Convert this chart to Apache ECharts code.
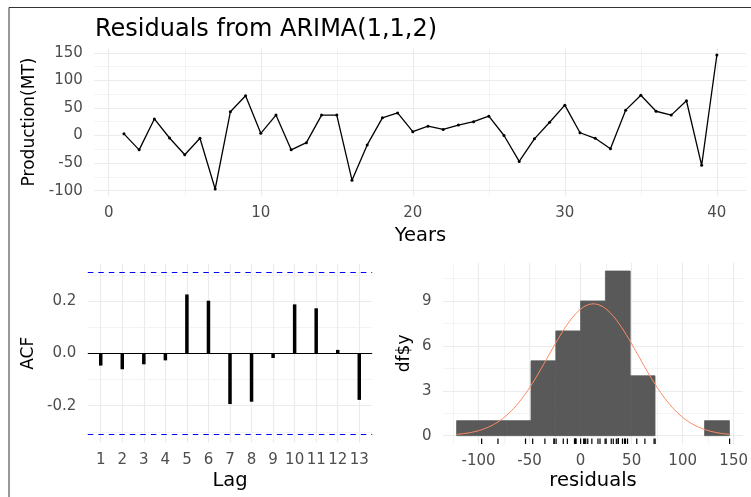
<!DOCTYPE html>
<html><head><meta charset="utf-8">
<script src="https://cdn.jsdelivr.net/npm/echarts@6/dist/echarts.min.js"></script>
<style>html,body{margin:0;padding:0;background:#fff}#c{width:751px;height:497px}</style>
</head><body><div id="c"></div><script>
// ---- data ----
const years = [1,2,3,4,5,6,7,8,9,10,11,12,13,14,15,16,17,18,19,20,21,22,23,24,25,26,27,28,29,30,31,32,33,34,35,36,37,38,39,40];
const residuals = [3,-26,30,-4.5,-35,-5,-97,43,72,4,37,-26,-13,37,37,-81,-17,32,41,7,17,11,19,25,35,0,-47,-6,24,55,5,-5,-24,46,73,44,37,63,-54,146];
const lags = [1,2,3,4,5,6,7,8,9,10,11,12,13];
const acfValues = [-0.047,-0.061,-0.042,-0.027,0.225,0.201,-0.194,-0.185,-0.018,0.187,0.172,0.013,-0.178];
const histBinStart = -121.5;
const histBinWidth = 24.3;
const histCounts = [1,1,1,5,7,9,11,4,0,0,1];
// tick labels / grid breaks
const yearTicks = [0,10,20,30,40];
const yearMinor = [5,15,25,35];
const prodTicks = [-100,-50,0,50,100,150];
const prodMinor = [-75,-25,25,75,125];
const acfTicks = [-0.2,0,0.2];
const acfMinor = [-0.3,-0.1,0.1,0.3];
const resTicks = [-100,-50,0,50,100,150];
const resMinor = [-125,-75,-25,25,75,125];
const countTicks = [0,3,6,9];
const countMinor = [1.5,4.5,7.5,10.5];

// ---- derived ----
const FONT = 'DejaVu Sans';
const TICK = '#4D4D4D';
function ext(lo, hi){ const d=(hi-lo)*0.05; return [lo-d, hi+d]; }
const n = residuals.length;
const x0 = ext(Math.min(...years), Math.max(...years));
const y0 = ext(Math.min(...residuals), Math.max(...residuals));
const x1 = ext(Math.min(...lags), Math.max(...lags));
const ci = 1.96/Math.sqrt(n);
const y1 = ext(Math.min(-ci, ...acfValues), Math.max(ci, ...acfValues));
const binEnd = histBinStart + histBinWidth*histCounts.length;
const x2 = ext(histBinStart, binEnd);
const y2 = ext(0, Math.max(...histCounts));
const mean = residuals.reduce((a,b)=>a+b,0)/n;
const sd = Math.sqrt(residuals.reduce((a,b)=>a+(b-mean)*(b-mean),0)/(n-1));
const curve = [];
for (let i=0;i<120;i++){
  const x = histBinStart + (binEnd-histBinStart)*i/119;
  curve.push([x, n*histBinWidth*Math.exp(-0.5*((x-mean)/sd)**2)/(sd*Math.sqrt(2*Math.PI))]);
}
const bins = histCounts.map((c,i)=>[histBinStart+i*histBinWidth, histBinStart+(i+1)*histBinWidth, c]);

function gl(vals, dim, w){ return vals.map(v=>({[dim]: v, lineStyle:{color:'#EBEBEB', width:w, type:'solid'}})); }
function bgSeries(idx, xMaj, xMin, yMaj, yMin){
  return {type:'line', xAxisIndex:idx, yAxisIndex:idx, data:[], silent:true, z:0,
    markLine:{silent:true, z:0, symbol:['none','none'], label:{show:false}, animation:false, emphasis:{disabled:true},
      data:[...gl(xMin,'xAxis',0.6), ...gl(yMin,'yAxis',0.6), ...gl(xMaj,'xAxis',1.1), ...gl(yMaj,'yAxis',1.1)]}};
}
function axis(idx, range, ticks, name, gap, isY, fmt){
  const a = {type:'value', gridIndex:idx, min:range[0], max:range[1],
    axisLine:{show:false}, axisTick:{show:false}, splitLine:{show:false}, minorSplitLine:{show:false},
    axisLabel:{customValues:ticks, color:TICK, fontSize:15, fontFamily:FONT, margin:isY?11.5:10},
    name:name, nameLocation:'middle', nameGap:gap,
    nameTextStyle:{color:'#000', fontSize:isY?17:19.5, fontFamily:FONT}};
  if (fmt) a.axisLabel.formatter = fmt;
  if (isY) a.nameRotate = 90;
  return a;
}

const chart = echarts.init(document.getElementById('c'));
chart.setOption({
  animation:false,
  textStyle:{fontFamily:FONT},
  title:{text:'Residuals from ARIMA(1,1,2)', left:90, top:13,
    textStyle:{fontFamily:FONT, fontSize:24, fontWeight:'normal', color:'#000'}},
  grid:[
    {left:94.3, top:48.3, width:652.2, height:147.4},
    {left:87.8, top:264.1, width:284.4, height:178.4},
    {left:443, top:262.8, width:302, height:181.1}
  ],
  xAxis:[
    axis(0, x0, yearTicks, 'Years', 30, false),
    axis(1, x1, lags, 'Lag', 28.7, false),
    axis(2, x2, resTicks, 'residuals', 27.4, false)
  ],
  yAxis:[
    axis(0, y0, prodTicks, 'Production(MT)', 55, true),
    axis(1, y1, acfTicks, 'ACF', 50.3, true, v=>v.toFixed(1)),
    axis(2, y2, countTicks, 'df$y', 29.5, true)
  ],
  graphic:[
    {type:'line', shape:{x1:9, y1:7.5, x2:751, y2:7.5}, style:{stroke:'#333', lineWidth:1}, silent:true},
    {type:'line', shape:{x1:9, y1:7.5, x2:9, y2:497}, style:{stroke:'#333', lineWidth:1}, silent:true}
  ],
  series:[
    bgSeries(0, yearTicks, yearMinor, prodTicks, prodMinor),
    bgSeries(1, lags, [], acfTicks, acfMinor),
    bgSeries(2, resTicks, resMinor, countTicks, countMinor),
    {type:'line', xAxisIndex:0, yAxisIndex:0, z:3, data:years.map((y,i)=>[y, residuals[i]]),
      symbol:'circle', symbolSize:3, showSymbol:true,
      lineStyle:{color:'#000', width:1.3}, itemStyle:{color:'#000'}},
    {type:'bar', xAxisIndex:1, yAxisIndex:1, z:3, barWidth:3.5, data:lags.map((l,i)=>[l, acfValues[i]]),
      itemStyle:{color:'#000'},
      markLine:{silent:true, z:1, symbol:['none','none'], label:{show:false}, animation:false,
        data:[
          {yAxis:0, lineStyle:{color:'#000', width:1, type:'solid'}},
          {yAxis:ci, lineStyle:{color:'#0000FF', width:1, type:[5.5,5]}},
          {yAxis:-ci, lineStyle:{color:'#0000FF', width:1, type:[5.5,5]}}
        ]}},
    {type:'custom', xAxisIndex:2, yAxisIndex:2, z:2, data:bins,
      renderItem:(params, api)=>{
        const c = api.value(2); if (!c) return null;
        const p0 = api.coord([api.value(0), 0]);
        const p1 = api.coord([api.value(1), c]);
        return {type:'rect', shape:{x:p0[0], y:p1[1], width:p1[0]-p0[0], height:p0[1]-p1[1]},
          style:{fill:'#595959', stroke:'#595959', lineWidth:0.8}};
      }},
    {type:'custom', xAxisIndex:2, yAxisIndex:2, z:3, data:residuals.map(v=>[v]),
      renderItem:(params, api)=>{
        const cs = params.coordSys;
        const x = api.coord([api.value(0), 0])[0];
        const yb = cs.y + cs.height;
        return {type:'line', shape:{x1:x, y1:yb, x2:x, y2:yb - 0.03*cs.height}, style:{stroke:'#000', lineWidth:1.2}};
      }},
    {type:'line', xAxisIndex:2, yAxisIndex:2, z:4, data:curve, showSymbol:false, symbol:'none',
      lineStyle:{color:'#ff8a62', width:1}}
  ]
});
</script></body></html>
